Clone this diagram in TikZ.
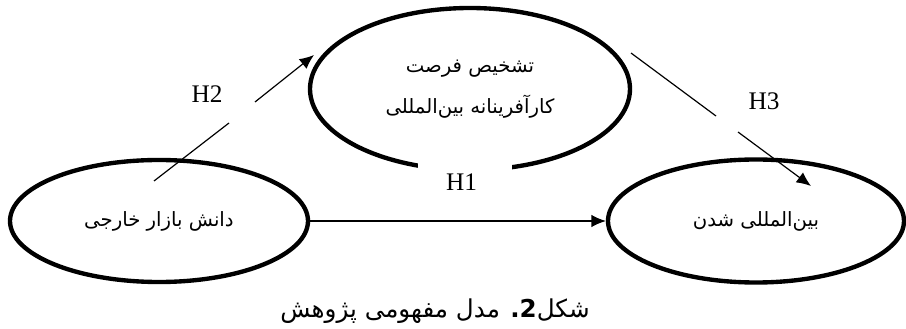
\documentclass[tikz,border=0pt]{standalone}
\usepackage{fontspec}
\setmainfont{Liberation Serif}
\newfontfamily\farsifont[Script=Arabic]{DejaVu Sans}
\TeXXeTstate=1
\usetikzlibrary{arrows.meta,shapes.geometric,positioning,calc}

\begin{document}
\begin{tikzpicture}[
        varbox/.style={draw,ellipse,line width=3.1pt,inner sep=0pt,align=center,
          font=\farsifont\fontsize{14}{29}\selectfont},
        hyp/.style={font=\fontsize{18}{20}\selectfont,inner sep=1pt},
        path/.style={line width=0.85pt},
        link/.style={path,-{Latex[length=3.6mm,width=3.1mm]}}]
        \useasboundingbox (0,0) rectangle (22.65,8.225);
        % the three variables
        \node[varbox,minimum width=7.45cm,minimum height=3.05cm]
        (know) at (3.975,2.7) {\beginR دانش بازار خارجی\endR};
        \node[varbox,minimum width=8cm,minimum height=4.05cm]
        (opp) at (11.75,6) {\beginR تشخیص فرصت\endR\\
          \beginR کارآفرینانه بین^^^^200cالمللی\endR};
        \node[varbox,minimum width=7.4cm,minimum height=3.075cm]
        (intl) at (18.9,2.7) {\beginR بین^^^^200cالمللی شدن\endR};
        % hypotheses
        \node[hyp,fill=white,minimum width=2.35cm,minimum height=1.1cm,
          text width=0.95cm,align=left]
        (h1) at (11.625,3.675) {H1};
        \draw[link] (know) -- (intl);
        \coordinate (h2a) at (3.85,3.7);
        \coordinate (h2b) at (5.725,5.15);
        \coordinate (h2c) at (6.375,5.675);
        \coordinate (h2d) at (7.85,6.85);
        \draw[path] (h2a) -- (h2b);
        \draw[link] (h2c) -- (h2d);
        \node[hyp] (h2) at (5.175,5.875) {H2};
        \coordinate (h3a) at (15.775,6.9);
        \coordinate (h3b) at (17.9,5.325);
        \coordinate (h3c) at (18.45,4.925);
        \coordinate (h3d) at (20.275,3.575);
        \draw[path] (h3a) -- (h3b);
        \draw[link] (h3c) -- (h3d);
        \node[hyp] (h3) at (19.1,5.7) {H3};
        % caption
        \node[font=\farsifont\fontsize{17.5}{20}\selectfont]
        (cap) at (10.875,0.45) {\beginR شکل{\bfseries 2}\kern0pt{\bfseries .} مدل مفهومی پژوهش\endR};
\end{tikzpicture}
\end{document}
